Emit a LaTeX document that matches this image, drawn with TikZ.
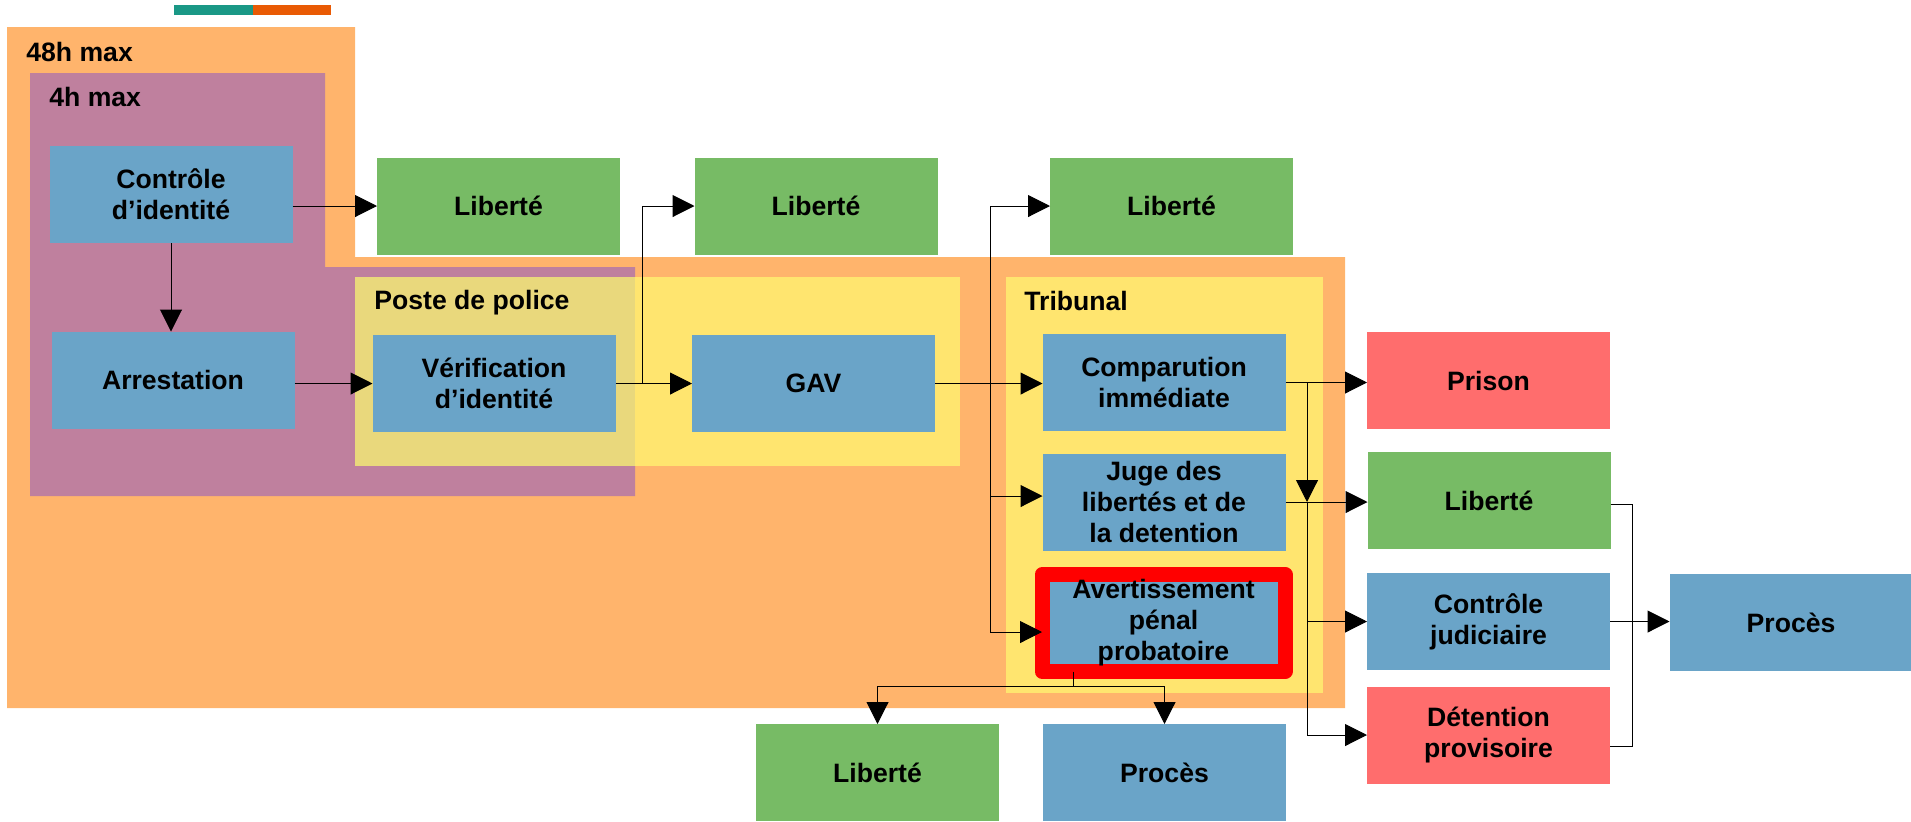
\documentclass[tikz,border=0pt]{standalone}
\usepackage{fontspec}
\setmainfont{Liberation Sans}
\usetikzlibrary{arrows.meta,positioning}
\definecolor{BoxBlue}{HTML}{6AA4C8}
\definecolor{BoxGreen}{HTML}{77BB65}
\definecolor{BoxRed}{HTML}{FF6D6D}
\definecolor{Zone48}{HTML}{FFB46C}
\definecolor{Zone4}{HTML}{BF809E}
\definecolor{ZoneYellow}{HTML}{FFE56F}
\definecolor{ZoneMix}{HTML}{E9D87C}
\definecolor{BarTeal}{HTML}{1A9886}
\definecolor{BarOrange}{HTML}{E95A04}

\tikzset{
  box/.style={minimum width=121.5pt,minimum height=48.5pt,inner sep=0pt,
    outer sep=0pt,align=center,font=\bfseries\fontsize{13.3}{15.5}\selectfont},
  bluebox/.style={box,fill=BoxBlue},
  greenbox/.style={box,fill=BoxGreen},
  redbox/.style={box,fill=BoxRed},
  zonelabel/.style={anchor=base west,inner sep=0pt,
    font=\bfseries\fontsize{13.3}{15.5}\selectfont},
  link/.style={line width=0.5pt},
  arr/.style={link,-{Triangle[length=11pt,width=11pt]}},
}

\begin{document}
\begin{tikzpicture}[x=0.5pt,y=-0.5pt]
  \useasboundingbox (0,0) rectangle (1911,821);
  % legend bar
  \fill[BarTeal] (174,5) rectangle (253,15);
  \fill[BarOrange] (253,5) rectangle (331,15);
  % zones
  \fill[Zone48] (7,27) -- (355,27) -- (355,257) -- (1345,257) -- (1345,708) -- (7,708) -- cycle;
  \fill[Zone4] (30,73) -- (325,73) -- (325,267) -- (635,267) -- (635,496) -- (30,496) -- cycle;
  \fill[ZoneYellow] (355,277) rectangle (960,466);
  \fill[ZoneMix] (355,277) rectangle (635,466);
  \fill[ZoneYellow] (1006,277) rectangle (1323,693);
  \node[zonelabel] (l48) at (26,61) {48h max};
  \node[zonelabel] (l4) at (49,106) {4h max};
  \node[zonelabel] (lposte) at (374,309) {Poste de police};
  \node[zonelabel] (ltrib) at (1024,310) {Tribunal};

  % boxes
  \node[bluebox] (ctrl) at (171,194.5) {Contrôle\\d’identité};
  \node[bluebox] (arrest) at (173,380) {Arrestation};
  \node[bluebox] (verif) at (494,383.5) {Vérification\\d’identité};
  \node[bluebox] (gav) at (813.5,383.5) {GAV};
  \node[greenbox] (lib1) at (498.5,206) {Liberté};
  \node[greenbox] (lib2) at (816,206) {Liberté};
  \node[greenbox] (lib3) at (1171.5,206) {Liberté};
  \node[bluebox] (comp) at (1164,382.5) {Comparution\\immédiate};
  \node[bluebox] (juge) at (1164,502) {Juge des\\libertés et de\\la detention};
  \node[bluebox,draw=red,line width=7.5pt,line join=round] (avert) at (1163.5,623)
    {Avertissement\\pénal\\probatoire};
  \node[redbox] (prison) at (1488.5,380.5) {Prison};
  \node[greenbox] (lib4) at (1489,500.5) {Liberté};
  \node[bluebox] (cj) at (1488.5,621.5) {Contrôle\\judiciaire};
  \node[redbox] (detp) at (1488.5,735) {Détention\\provisoire};
  \node[bluebox] (proc1) at (1791,622.5) {Procès};
  \node[greenbox] (lib5) at (877.5,772.5) {Liberté};
  \node[bluebox] (proc2) at (1164.5,772.5) {Procès};

  % arrows
  \draw[arr] (ctrl.east |- lib1.west) -- (lib1.west);
  \draw[arr] (ctrl.south) -- (ctrl.south |- arrest.north);
  \draw[arr] (arrest.east |- verif.west) -- (verif.west);
  \draw[arr] (verif.east) -- (gav.west);
  \coordinate (split1) at (642,383.5);
  \draw[arr] (split1) |- (lib2.west);
  \draw[arr] (gav.east) -- (gav.east -| comp.west);
  \coordinate (split2) at (990,383.5);
  \draw[arr] (split2) |- (lib3.west);
  \draw[arr] (split2) |- ([yshift=3pt]juge.west);
  \draw[arr] (split2) |- ([yshift=-4.5pt]avert.west);
  % out of the tribunal
  \coordinate (split3) at (1307,382.5);
  \coordinate (split4) at (1307,502);
  \draw[arr] (comp.east) -- (comp.east -| prison.west);
  \draw[arr] (split3) -- (split4);
  \draw[arr] (juge.east) -- (juge.east -| lib4.west);
  \draw[arr] (split4) |- (cj.west);
  \draw[arr] (split4) |- (detp.west);
  \coordinate (join1) at (1632,625);
  \draw[link] ([yshift=-1.75pt]lib4.east) -| (join1) |- ([yshift=-5.5pt]detp.east);
  \draw[arr] (cj.east) -- (cj.east -| proc1.west);
  % below the warning
  \coordinate (split5) at (1073,686);
  \draw[link] (split5 |- avert.south) -- (split5);
  \draw[arr] (split5) -| (lib5.north);
  \draw[arr] (split5) -| (proc2.north);
\end{tikzpicture}
\end{document}
